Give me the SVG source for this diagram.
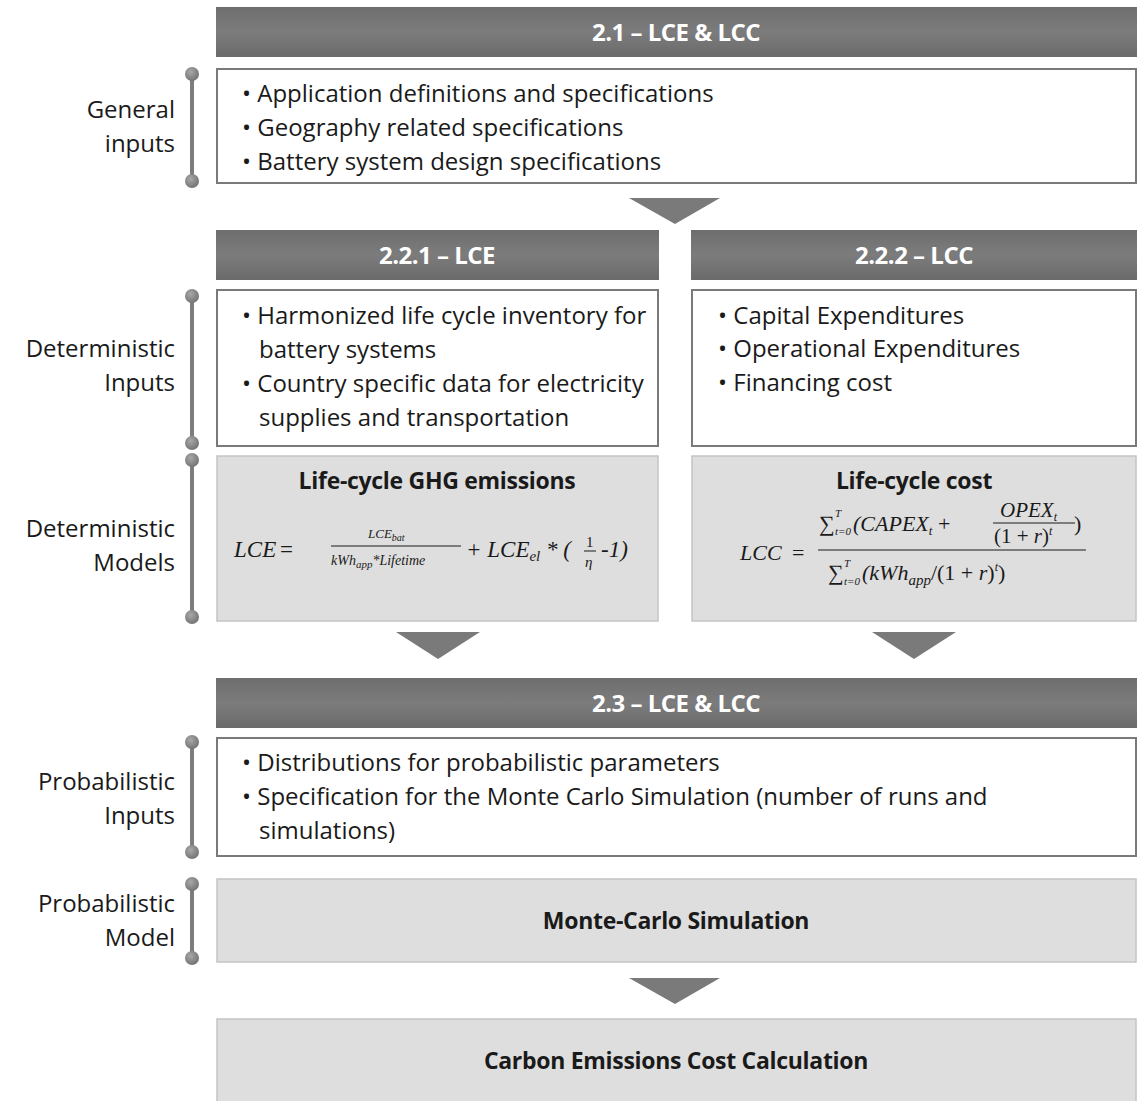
<svg xmlns="http://www.w3.org/2000/svg" width="1145" height="1101" viewBox="0 0 1145 1101">
<defs>
<linearGradient id="hdr" x1="0" y1="0" x2="0" y2="1">
<stop offset="0" stop-color="#6e6e6e"/><stop offset="0.5" stop-color="#7c7c7c"/><stop offset="1" stop-color="#6a6a6a"/>
</linearGradient>
<radialGradient id="dot" cx="0.4" cy="0.35" r="0.7">
<stop offset="0" stop-color="#a8a8a8"/><stop offset="1" stop-color="#707070"/>
</radialGradient>
<style>
.hdr{fill:url(#hdr);}
.htxt{font-family:"Open Sans","Liberation Sans",sans-serif;font-weight:bold;font-size:24px;fill:#ffffff;text-anchor:middle;letter-spacing:-0.5px;}
.wbox{fill:#ffffff;stroke:#7a7a7a;stroke-width:2;}
.gbox{fill:#dedede;stroke:#c4c4c4;stroke-width:1.5;}
.btxt{font-family:"Open Sans","Liberation Sans",sans-serif;font-size:24px;fill:#1a1a1a;}
.ttl{font-family:"Open Sans","Liberation Sans",sans-serif;font-size:23px;font-weight:bold;fill:#1a1a1a;text-anchor:middle;letter-spacing:-0.3px;}
.lbl{font-family:"Open Sans","Liberation Sans",sans-serif;font-size:24px;fill:#1a1a1a;text-anchor:end;}
.br line{stroke:#7d7d7d;stroke-width:4;}
.br circle{fill:url(#dot);}
.arr{fill:#7a7a7a;}
.m{font-family:"Liberation Serif","DejaVu Serif",serif;font-style:italic;fill:#1a1a1a;}
.mu{font-family:"Liberation Serif","DejaVu Serif",serif;font-style:normal;fill:#1a1a1a;}
</style>
</defs>

<g id="brackets">
<g class="br"><line x1="192" y1="74" x2="192" y2="181"/><circle cx="192" cy="74" r="7"/><circle cx="192" cy="181" r="7"/></g>
<g class="br"><line x1="192" y1="296" x2="192" y2="443"/><circle cx="192" cy="296" r="7"/><circle cx="192" cy="443" r="7"/></g>
<g class="br"><line x1="192" y1="460" x2="192" y2="617"/><circle cx="192" cy="460" r="7"/><circle cx="192" cy="617" r="7"/></g>
<g class="br"><line x1="192" y1="742" x2="192" y2="852"/><circle cx="192" cy="742" r="7"/><circle cx="192" cy="852" r="7"/></g>
<g class="br"><line x1="192" y1="884" x2="192" y2="958"/><circle cx="192" cy="884" r="7"/><circle cx="192" cy="958" r="7"/></g>
</g>

<g id="labels">
<text class="lbl" x="175" y="118">General</text>
<text class="lbl" x="175" y="152">inputs</text>
<text class="lbl" x="175" y="357">Deterministic</text>
<text class="lbl" x="175" y="391">Inputs</text>
<text class="lbl" x="175" y="537">Deterministic</text>
<text class="lbl" x="175" y="571">Models</text>
<text class="lbl" x="175" y="790">Probabilistic</text>
<text class="lbl" x="175" y="824">Inputs</text>
<text class="lbl" x="175" y="912">Probabilistic</text>
<text class="lbl" x="175" y="946">Model</text>
</g>

<g id="connectors">
<polygon class="arr" points="629,198 720,198 675,224"/>
<polygon class="arr" points="396,632 480,632 438,659"/>
<polygon class="arr" points="872,632 956,632 914,659"/>
<polygon class="arr" points="629,978 720,978 675,1004"/>
</g>

<g id="h21"><rect class="hdr" x="216" y="7" width="921" height="50"/><text class="htxt" x="676" y="41">2.1 – LCE &amp; LCC</text></g>

<g id="general">
<rect class="wbox" x="217" y="69" width="919" height="114"/>
<text class="btxt" x="242" y="102">• Application definitions and specifications</text>
<text class="btxt" x="242" y="136">• Geography related specifications</text>
<text class="btxt" x="242" y="170">• Battery system design specifications</text>
</g>

<g id="h221"><rect class="hdr" x="216" y="230" width="443" height="50"/><text class="htxt" x="437" y="264">2.2.1 – LCE</text></g>
<g id="h222"><rect class="hdr" x="691" y="230" width="446" height="50"/><text class="htxt" x="914" y="264">2.2.2 – LCC</text></g>

<g id="detin-lce">
<rect class="wbox" x="217" y="290" width="441" height="156"/>
<text class="btxt" x="242" y="324">• Harmonized life cycle inventory for</text>
<text class="btxt" x="259" y="358">battery systems</text>
<text class="btxt" x="242" y="392">• Country specific data for electricity</text>
<text class="btxt" x="259" y="426">supplies and transportation</text>
</g>

<g id="detin-lcc">
<rect class="wbox" x="692" y="290" width="444" height="156"/>
<text class="btxt" x="718" y="324">• Capital Expenditures</text>
<text class="btxt" x="718" y="357">• Operational Expenditures</text>
<text class="btxt" x="718" y="391">• Financing cost</text>
</g>

<g id="model-lce">
<rect class="gbox" x="217" y="456" width="441" height="165"/>
<text class="ttl" x="437" y="489">Life-cycle GHG emissions</text>
<text class="m" x="234" y="557" font-size="23">LCE</text>
<text class="mu" x="280" y="557" font-size="23">=</text>
<text class="m" x="368" y="538" font-size="13">LCE<tspan font-size="10" dy="3">bat</tspan></text>
<line x1="331" y1="546" x2="461" y2="546" stroke="#1a1a1a" stroke-width="1"/>
<text class="m" x="331" y="565" font-size="14">kWh<tspan font-size="11" dy="3">app</tspan><tspan dy="-3">*Lifetime</tspan></text>
<text class="m" x="466" y="557" font-size="23">+ LCE<tspan font-size="15" dy="4">el</tspan><tspan dy="-4"> * (</tspan></text>
<text class="mu" x="586" y="547" font-size="15">1</text>
<line x1="584" y1="551" x2="596" y2="551" stroke="#1a1a1a" stroke-width="1"/>
<text class="m" x="585" y="567" font-size="15">η</text>
<text class="m" x="601" y="557" font-size="23">-1)</text>
</g>

<g id="model-lcc">
<rect class="gbox" x="692" y="456" width="444" height="165"/>
<text class="ttl" x="914" y="489">Life-cycle cost</text>
<text class="m" x="740" y="560" font-size="22">LCC</text>
<text class="mu" x="792" y="560" font-size="22">=</text>
<text class="mu" x="819" y="531" font-size="22">∑</text>
<text class="m" x="835" y="517" font-size="11">T</text>
<text class="m" x="835" y="535" font-size="11">t=0</text>
<text class="m" x="853" y="531" font-size="22">(CAPEX<tspan font-size="13" dy="4">t</tspan><tspan dy="-4" class="mu"> +</tspan></text>
<text class="m" x="1000" y="517" font-size="21">OPEX<tspan font-size="12" dy="4">t</tspan></text>
<line x1="993" y1="523" x2="1075" y2="523" stroke="#1a1a1a" stroke-width="1"/>
<text class="mu" x="994" y="543" font-size="21">(1 + <tspan class="m">r</tspan>)<tspan font-size="12" dy="-8" class="m">t</tspan></text>
<text class="mu" x="1074" y="531" font-size="22">)</text>
<line x1="818" y1="550" x2="1086" y2="550" stroke="#1a1a1a" stroke-width="1"/>
<text class="mu" x="828" y="580" font-size="22">∑</text>
<text class="m" x="844" y="567" font-size="11">T</text>
<text class="m" x="844" y="585" font-size="11">t=0</text>
<text class="m" x="862" y="580" font-size="22">(kWh<tspan font-size="15" dy="5">app</tspan><tspan dy="-5" class="mu">/(1 + </tspan>r<tspan class="mu">)</tspan><tspan font-size="12" dy="-9">t</tspan><tspan dy="9" class="mu">)</tspan></text>
</g>

<g id="h23"><rect class="hdr" x="216" y="678" width="921" height="50"/><text class="htxt" x="676" y="712">2.3 – LCE &amp; LCC</text></g>

<g id="probin">
<rect class="wbox" x="217" y="738" width="919" height="118"/>
<text class="btxt" x="242" y="771">• Distributions for probabilistic parameters</text>
<text class="btxt" x="242" y="805">• Specification for the Monte Carlo Simulation (number of runs and</text>
<text class="btxt" x="259" y="839">simulations)</text>
</g>

<g id="montecarlo">
<rect class="gbox" x="217" y="879" width="919" height="83"/>
<text class="ttl" x="676" y="929">Monte-Carlo Simulation</text>
</g>

<g id="carbon">
<rect class="gbox" x="217" y="1019" width="919" height="90"/>
<text class="ttl" x="676" y="1069">Carbon Emissions Cost Calculation</text>
</g>
</svg>
